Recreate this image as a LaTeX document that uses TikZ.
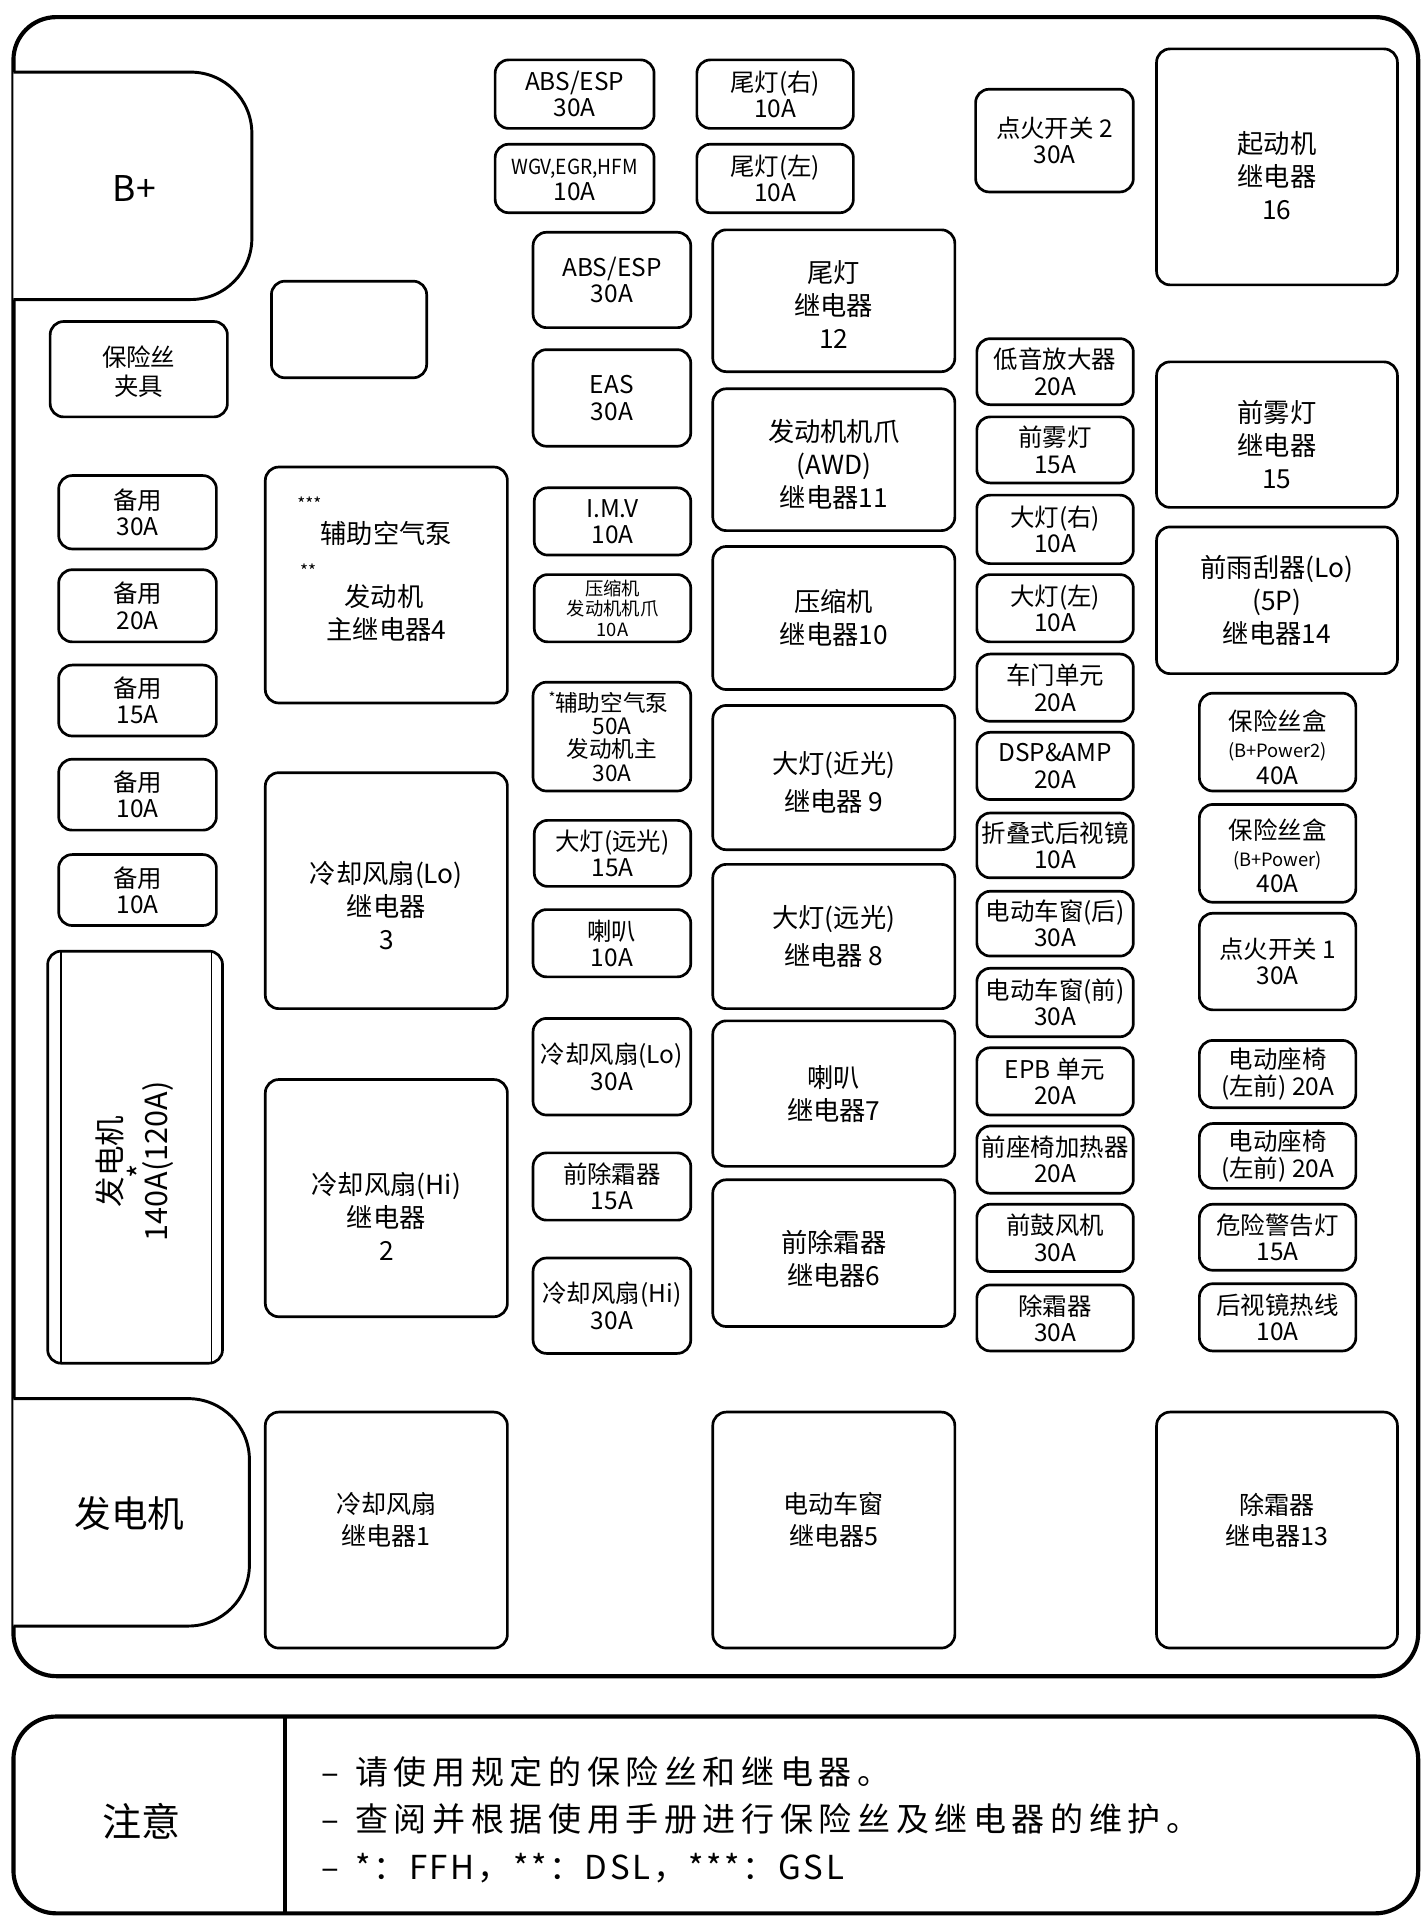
\documentclass[tikz,border=0pt]{standalone}
\usepackage{fontspec}
\setmainfont{Noto Sans CJK SC}
\usepackage{graphicx}
\tikzset{
  bx/.style={draw, line width=2.2pt, rounded corners=11pt, fill=white, inner sep=0pt, outer sep=0pt},
  fs/.style={font=\fontsize{20}{21.5}\selectfont, align=center, inner sep=0pt},
  fsb/.style={font=\fontsize{15}{17}\selectfont, align=center, inner sep=0pt},
  fsc/.style={font=\fontsize{18.5}{19}\selectfont, align=center, inner sep=0pt},
  fsd/.style={font=\fontsize{20}{22}\selectfont, align=center, inner sep=0pt},
  rl/.style={font=\fontsize{21.5}{27}\selectfont, align=center, inner sep=0pt},
  rlw/.style={font=\fontsize{21.5}{31.5}\selectfont, align=center, inner sep=0pt},
  rls/.style={font=\fontsize{20.5}{26}\selectfont, align=center, inner sep=0pt},
  frame/.style={draw, line width=3.4pt, rounded corners=35pt},
  plain/.style={inner sep=0pt},
  notefont/.style={font=\fontsize{27}{27}\selectfont\addfontfeature{LetterSpace=17}},
}
\newcommand\boxnode[8][0]{%
  \node[bx, minimum width={(#5-#3)*1pt}, minimum height={(#6-#4)*1pt}] (#7) at ({(#3+#5)/2},{(#4+#6)/2}) {};
  \node[#2] (#7t) at ({(#3+#5)/2},{(#4+#6)/2+#1}) {#8};}
\begin{document}
\begin{tikzpicture}[x=1pt,y=-1pt]
\useasboundingbox (0,0) rectangle (1162,1568);
\fill[white] (0,0) rectangle (1162,1568);
% outer frame
\draw[frame] (11,14) rectangle (1160,1371);
% B+ block
\draw[line width=2.4pt, rounded corners=50pt, fill=white] (11,59) -- (206,59) -- (206,245) -- (11,245);
\node[plain, font=\fontsize{29}{29}\selectfont] (bplus) at (110,154) {B+};
% generator block bottom
\draw[line width=2.4pt, rounded corners=50pt, fill=white] (11,1144) -- (204,1144) -- (204,1330) -- (11,1330);
\node[plain, font=\fontsize{30}{30}\selectfont] (gen) at (106,1238) {发电机};
% empty box and clamp
\boxnode{fs}{222}{230}{349}{309}{empty}{}
\boxnode[2]{fsd}{41}{263}{186}{341}{clamp}{保险丝\\[2pt]夹具}
% spares
\boxnode{fs}{48}{389}{177}{449}{s1}{备用\\30A}
\boxnode{fs}{48}{466}{177}{525}{s2}{备用\\20A}
\boxnode{fs}{48}{544}{177}{602}{s3}{备用\\15A}
\boxnode{fs}{48}{621}{177}{679}{s4}{备用\\10A}
\boxnode{fs}{48}{699}{177}{757}{s5}{备用\\10A}
% generator fuse
\node[bx, minimum width=143pt, minimum height=337pt] (genfuse) at (110.5,946.5) {};
\draw[line width=1.6pt] (50,779) -- (50,1114);
\draw[line width=1.6pt] (173,779) -- (173,1114);
\node[rotate=90, align=center, inner sep=0pt, font=\fontsize{25}{37}\selectfont] (genfuset) at (110,950) {发电机\\140A\makebox[0pt]{\raisebox{0.5em}{*}}(120A)};
% left relays
\node[bx, minimum width=198pt, minimum height=193pt] (r4) at (316,478.5) {};
\node[plain, font=\fontsize{14}{14}\selectfont] (r4s3) at (253,412) {***};
\node[plain, font=\fontsize{21.5}{21.5}\selectfont] (r4a) at (316,436) {辅助空气泵};
\node[plain, font=\fontsize{14}{14}\selectfont] (r4s2) at (252,467) {**};
\node[plain, font=\fontsize{21.5}{21.5}\selectfont] (r4b) at (314,488) {发动机};
\node[plain, font=\fontsize{21.5}{21.5}\selectfont] (r4c) at (316,515) {主继电器4};
\boxnode[12]{rl}{217}{632}{415}{825}{r3}{冷却风扇(Lo)\\继电器\\3}
\boxnode[15]{rl}{217}{883}{415}{1077}{r2}{冷却风扇(Hi)\\继电器\\2}
\boxnode[-8]{rls}{217}{1155}{415}{1348}{r1}{冷却风扇\\继电器1}
% column A fuses
\boxnode{fs}{405}{49}{535}{105}{fA1}{ABS/ESP\\30A}
\boxnode[1]{fs}{405}{118}{535}{174}{fA2}{{\fontsize{17}{21.5}\selectfont\scalebox{0.92}[1]{WGV,EGR,HFM}}\\10A}
\boxnode{fs}{570}{49}{698}{105}{fT1}{尾灯(右)\\10A}
\boxnode{fs}{570}{118}{698}{174}{fT2}{尾灯(左)\\10A}
% column B fuses
\boxnode{fs}{436}{190}{565}{268}{fB1}{ABS/ESP\\30A}
\boxnode{fs}{436}{286}{565}{365}{fB2}{EAS\\30A}
\boxnode{fs}{437}{399}{565}{454}{fB3}{I.M.V\\10A}
\boxnode{fsb}{437}{470}{565}{525}{fB4}{压缩机\\发动机机爪\\10A}
\boxnode{fsc}{436}{558}{565}{647}{fB5}{\llap{\raisebox{0.35em}{\fontsize{12}{12}\selectfont *}}辅助空气泵\\50A\\发动机主\\30A}
\boxnode{fs}{437}{671}{565}{725}{fB6}{大灯(远光)\\15A}
\boxnode{fs}{436}{744}{565}{799}{fB7}{喇叭\\10A}
\boxnode{fs}{436}{833}{565}{912}{fB8}{冷却风扇(Lo)\\30A}
\boxnode{fs}{436}{943}{565}{998}{fB9}{前除霜器\\15A}
\boxnode{fs}{436}{1029}{565}{1107}{fB10}{冷却风扇(Hi)\\30A}
% column C relays
\boxnode[3]{rl}{583}{188}{781}{304}{r12}{尾灯\\继电器\\12}
\boxnode[4]{rl}{583}{318}{781}{434}{r11}{发动机机爪\\(AWD)\\继电器11}
\boxnode{rl}{583}{447}{781}{564}{r10}{压缩机\\继电器10}
\boxnode[4]{rlw}{583}{577}{781}{695}{r9}{大灯(近光)\\继电器 9}
\boxnode{rlw}{583}{707}{781}{825}{r8}{大灯(远光)\\继电器 8}
\boxnode{rl}{583}{835}{781}{954}{r7}{喇叭\\继电器7}
\boxnode[5]{rl}{583}{965}{781}{1085}{r6}{前除霜器\\继电器6}
\boxnode[-8]{rls}{583}{1155}{781}{1348}{r5}{电动车窗\\继电器5}
% column D fuses
\boxnode{fs}{798}{73}{927}{157}{fD1}{点火开关 2\\30A}
\boxnode{fs}{799}{277}{927}{331}{fD2}{低音放大器\\20A}
\boxnode{fs}{799}{341}{927}{395}{fD3}{前雾灯\\15A}
\boxnode{fs}{799}{405}{927}{461}{fD4}{大灯(右)\\10A}
\boxnode{fs}{799}{470}{927}{525}{fD5}{大灯(左)\\10A}
\boxnode{fs}{799}{535}{927}{590}{fD6}{车门单元\\20A}
\boxnode{fs}{799}{599}{927}{654}{fD7}{DSP\&AMP\\20A}
\boxnode{fs}{799}{665}{927}{718}{fD8}{折叠式后视镜\\10A}
\boxnode{fs}{799}{729}{927}{782}{fD9}{电动车窗(后)\\30A}
\boxnode{fs}{799}{792}{927}{848}{fD10}{电动车窗(前)\\30A}
\boxnode{fs}{799}{857}{927}{912}{fD11}{EPB 单元\\20A}
\boxnode{fs}{799}{921}{927}{976}{fD12}{前座椅加热器\\20A}
\boxnode{fs}{799}{985}{927}{1040}{fD13}{前鼓风机\\30A}
\boxnode{fs}{799}{1051}{927}{1105}{fD14}{除霜器\\30A}
% column E relays
\boxnode[7]{rl}{946}{40}{1143}{233}{r16}{起动机\\继电器\\16}
\boxnode[8]{rl}{946}{296}{1143}{415}{r15}{前雾灯\\继电器\\15}
\boxnode{rl}{946}{431}{1143}{551}{r14}{前雨刮器(Lo)\\(5P)\\继电器14}
\boxnode[-8]{rls}{946}{1155}{1143}{1348}{r13}{除霜器\\继电器13}
% column E fuses
\boxnode[4]{fsd}{981}{567}{1109}{647}{fE1}{保险丝盒\\{\fontsize{15}{22}\selectfont (B+Power2)}\\40A}
\boxnode[2]{fsd}{981}{658}{1109}{738}{fE2}{保险丝盒\\{\fontsize{15}{22}\selectfont (B+Power)}\\40A}
\boxnode{fs}{981}{747}{1109}{826}{fE3}{点火开关 1\\30A}
\boxnode{fs}{981}{851}{1109}{906}{fE4}{电动座椅\\(左前) 20A}
\boxnode{fs}{981}{919}{1109}{972}{fE5}{电动座椅\\(左前) 20A}
\boxnode{fs}{981}{985}{1109}{1039}{fE6}{危险警告灯\\15A}
\boxnode{fs}{981}{1050}{1109}{1105}{fE7}{后视镜热线\\10A}
% notice
\draw[frame] (11,1404) rectangle (1160,1565);
\draw[line width=3pt] (233,1404) -- (233,1565);
\node[plain, font=\fontsize{32}{32}\selectfont] (note) at (116,1490) {注意};
\node[plain, anchor=base west, notefont] (n1) at (263,1460) {–\hspace{13pt}请使用规定的保险丝和继电器。};
\node[plain, anchor=base west, notefont] (n2) at (263,1498) {–\hspace{13pt}查阅并根据使用手册进行保险丝及继电器的维护。};
\node[plain, anchor=base west, font=\fontsize{27}{27}\selectfont\addfontfeature{LetterSpace=8}] (n3) at (263,1537) {–\hspace{13pt}*：FFH，**：DSL，***：GSL};
\end{tikzpicture}
\end{document}
